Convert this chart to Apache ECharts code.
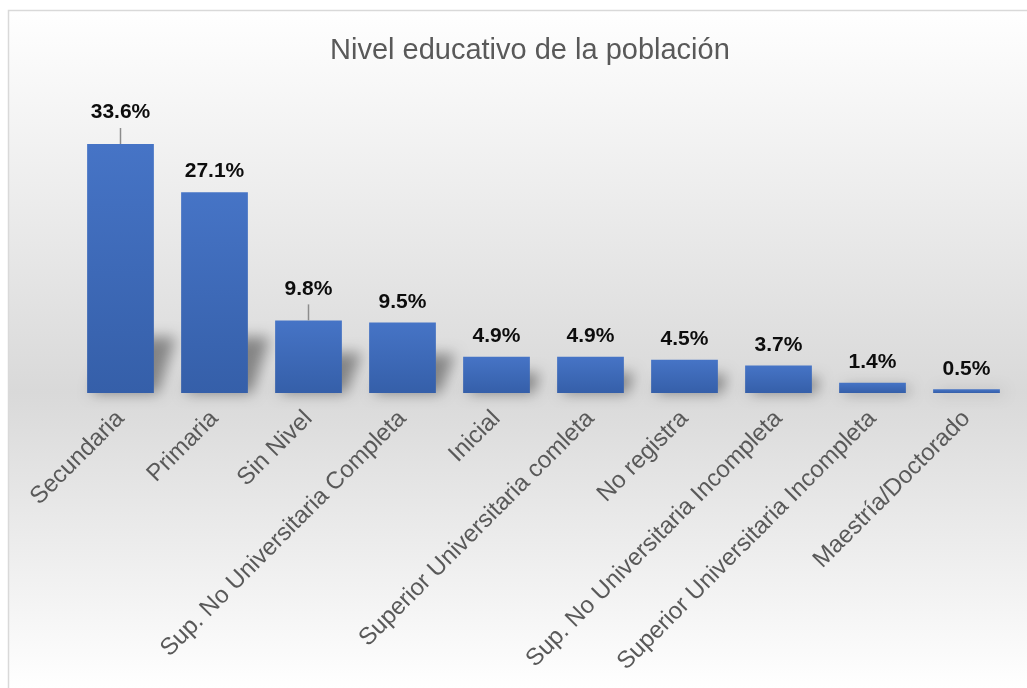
<!DOCTYPE html>
<html>
<head>
<meta charset="utf-8">
<title>Nivel educativo de la población</title>
<script src="https://cdn.jsdelivr.net/npm/echarts@6/dist/echarts.min.js"></script>
<style>
  html, body { margin: 0; padding: 0; background: #ffffff; }
  #chart { width: 1027px; height: 688px; }
</style>
</head>
<body>
<div id="chart"></div>
<script>
// Education level of the population (% of total)
const categories = [
  'Secundaria',
  'Primaria',
  'Sin Nivel',
  'Sup. No Universitaria Completa',
  'Inicial',
  'Superior Universitaria comleta',
  'No registra',
  'Sup. No Universitaria Incompleta',
  'Superior Universitaria Incompleta',
  'Maestría/Doctorado'
];
const values = [33.6, 27.1, 9.8, 9.5, 4.9, 4.9, 4.5, 3.7, 1.4, 0.5];

// Labels lifted above their bar and tied to it with a short guide line
const raisedLabels = [0, 2];

const FONT = '"Liberation Sans", Arial, Helvetica, sans-serif';
const chart = echarts.init(document.getElementById('chart'), null, { renderer: 'canvas' });

const barData = values.map((v, i) => ({
  value: v,
  label: raisedLabels.includes(i) ? { offset: [0, -11] } : {}
}));

// Soft perspective shadow behind each bar. The shape itself is drawn far
// off to the left and only its blurred canvas shadow is shifted back in.
const SHIFT = 3000;
function renderShadow(params, api) {
  const i = api.value(0);
  const base = api.coord([i, 0]);
  const top = api.coord([i, api.value(1)]);
  const w = api.size([1, 0])[0] * 0.71;
  const h = base[1] - top[1];
  const sh = Math.min(h * 0.55, 56);
  const dx = Math.min(sh * 0.5, 22);
  const x0 = base[0] - w / 2 + 4 - SHIFT, x1 = base[0] + w / 2 - SHIFT;
  return {
    type: 'polygon',
    shape: {
      points: [
        [x0, base[1]], [x1 + 4, base[1]],
        [x1 + dx, base[1] - sh], [x0 + dx, base[1] - sh]
      ]
    },
    style: {
      fill: '#000',
      shadowBlur: 14,
      shadowOffsetX: SHIFT,
      shadowOffsetY: 0,
      shadowColor: 'rgba(0,0,0,0.4)'
    },
    silent: true
  };
}

// vertical guide line from a bar top up to its raised label
function renderGuide(params, api) {
  const p = api.coord([api.value(0), api.value(1)]);
  return {
    type: 'line',
    shape: { x1: p[0], y1: p[1], x2: p[0], y2: p[1] - 16 },
    style: { stroke: '#8c8c8c', lineWidth: 1.5 },
    silent: true
  };
}

chart.setOption({
  animation: false,
  backgroundColor: '#ffffff',
  graphic: [{
    type: 'rect',
    z: -10,
    silent: true,
    shape: { x: 8.5, y: 10.5, width: 1040, height: 700 },
    style: {
      stroke: '#d9d9d9',
      lineWidth: 1.5,
      fill: {
        type: 'linear', x: 0, y: 0, x2: 0, y2: 1, global: false,
        colorStops: [
          { offset: 0, color: '#ffffff' },
          { offset: 0.545, color: '#d9d9d9' },
          { offset: 0.97, color: '#ffffff' },
          { offset: 1, color: '#ffffff' }
        ]
      }
    }
  }],
  title: {
    text: 'Nivel educativo de la población',
    left: 325,
    top: 31,
    textStyle: {
      fontFamily: FONT,
      fontSize: 29,
      fontWeight: 'normal',
      color: '#595959'
    }
  },
  grid: {
    left: 73.5,
    right: 13.5,
    top: 96.6,
    bottom: 295,
    containLabel: false
  },
  xAxis: {
    type: 'category',
    data: categories,
    axisLine: { show: false },
    axisTick: { show: false },
    axisLabel: {
      interval: 0,
      rotate: 45,
      margin: 22,
      fontFamily: FONT,
      fontSize: 24,
      color: '#595959'
    }
  },
  yAxis: {
    type: 'value',
    min: 0,
    max: 40,
    show: false,
    splitLine: { show: false }
  },
  series: [
    {
      type: 'custom',
      z: 1,
      renderItem: renderShadow,
      data: values.map((v, i) => [i, v]),
      encode: { x: 0, y: 1 },
      tooltip: { show: false }
    },
    {
      type: 'bar',
      z: 2,
      data: barData,
      barWidth: '71%',
      itemStyle: {
        color: {
          type: 'linear', x: 0, y: 0, x2: 0, y2: 1,
          colorStops: [
            { offset: 0, color: '#4674c6' },
            { offset: 1, color: '#355fa9' }
          ]
        }
      },
      label: {
        show: true,
        position: 'top',
        distance: 10,
        formatter: p => p.value.toFixed(1) + '%',
        fontFamily: FONT,
        fontSize: 21,
        fontWeight: 'bold',
        color: '#0d0d0d'
      }
    },
    {
      type: 'custom',
      z: 3,
      renderItem: renderGuide,
      data: raisedLabels.map(i => [i, values[i]]),
      encode: { x: 0, y: 1 }
    }
  ]
});
</script>
</body>
</html>
